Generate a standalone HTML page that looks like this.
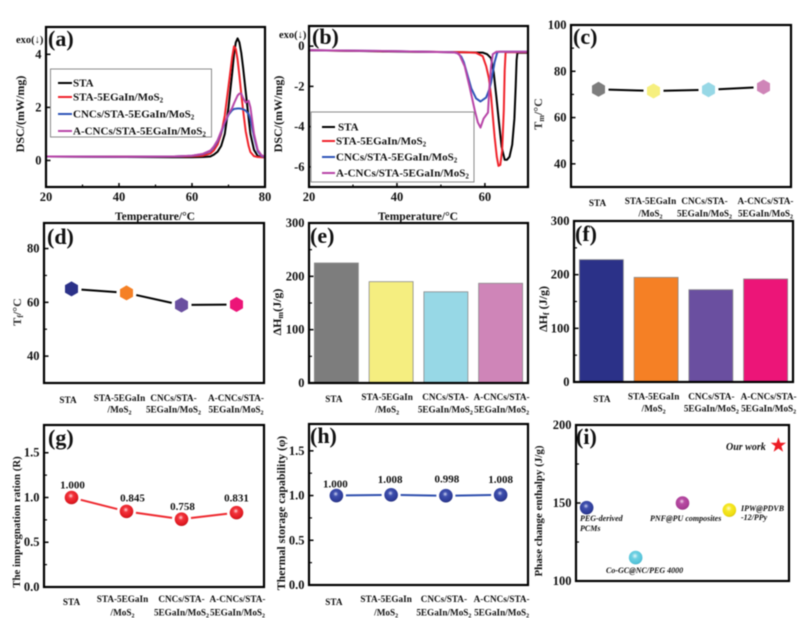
<!DOCTYPE html>
<html lang="en">
<head>
<meta charset="utf-8">
<title>Composite chart panels</title>
<style>
html,body{margin:0;padding:0;background:#fff;width:807px;height:618px;overflow:hidden}
svg{display:block;filter:blur(.6px)}
text{font-family:"Liberation Serif",serif;font-weight:bold;fill:#111}
.letter{font-size:22px}
.title{font-size:12px;text-anchor:middle}
.leg{font-size:11px}
.note{font-size:8px;font-style:italic}
</style>
</head>
<body>
<svg id="fig" xmlns="http://www.w3.org/2000/svg" width="807" height="618" viewBox="0 0 807 618">
<defs>
<radialGradient id="ball-red" cx=".45" cy=".38" r=".62"><stop offset="0" stop-color="#ffd9dc"/><stop offset=".3" stop-color="#f2343c"/><stop offset=".85" stop-color="#e01820"/><stop offset="1" stop-color="#b51218"/></radialGradient>
<radialGradient id="ball-blue" cx=".45" cy=".38" r=".62"><stop offset="0" stop-color="#cdd2f0"/><stop offset=".3" stop-color="#3f50ae"/><stop offset=".85" stop-color="#2c3a96"/><stop offset="1" stop-color="#232d78"/></radialGradient>
<radialGradient id="ball-magenta" cx=".45" cy=".38" r=".62"><stop offset="0" stop-color="#f2d4ec"/><stop offset=".3" stop-color="#b84ca4"/><stop offset=".85" stop-color="#a83c94"/><stop offset="1" stop-color="#8c2f7c"/></radialGradient>
<radialGradient id="ball-cyan" cx=".45" cy=".38" r=".62"><stop offset="0" stop-color="#e4f8fb"/><stop offset=".35" stop-color="#6ed0e2"/><stop offset=".85" stop-color="#55c4da"/><stop offset="1" stop-color="#40aec4"/></radialGradient>
<radialGradient id="ball-yellow" cx=".45" cy=".38" r=".62"><stop offset="0" stop-color="#fffbd0"/><stop offset=".35" stop-color="#f6e826"/><stop offset=".85" stop-color="#eedc10"/><stop offset="1" stop-color="#d2c008"/></radialGradient>
</defs>

<g id="plots"></g>

<g>
<text class="letter" x="48" y="46">(a)</text>
<text class="letter" x="312" y="44">(b)</text>
<text class="letter" x="573" y="44">(c)</text>
<text class="letter" x="47" y="244">(d)</text>
<text class="letter" x="310" y="243">(e)</text>
<text class="letter" x="575" y="241">(f)</text>
<text class="letter" x="48" y="445">(g)</text>
<text class="letter" x="310" y="443">(h)</text>
<text class="letter" x="576" y="444">(i)</text>
</g>

<g>
<text x="16" y="43" style="font-size:10.5px">exo(↓)</text>
<text x="279" y="38" style="font-size:10.5px">exo(↓)</text>
<text class="title" x="155" y="220" style="font-size:11.5px">Temperature/°C</text>
<text class="title" x="418" y="220" style="font-size:11.5px">Temperature/°C</text>
<text class="title" transform="translate(24,114) rotate(-90)">DSC/(mW/mg)</text>
<text class="title" transform="translate(282,114) rotate(-90)">DSC/(mW/mg)</text>
<text class="title" transform="translate(542,114) rotate(-90)" style="fill:#333">T<tspan font-size="8" dy="2">m</tspan><tspan dy="-2">/°C</tspan></text>
<text class="title" transform="translate(21,312) rotate(-90)" style="fill:#333">T<tspan font-size="8" dy="2">f</tspan><tspan dy="-2">/°C</tspan></text>
<text class="title" transform="translate(281,312) rotate(-90)">ΔH<tspan font-size="8" dy="2">m</tspan><tspan dy="-2">(J/g)</tspan></text>
<text class="title" transform="translate(547,309) rotate(-90)">ΔH<tspan font-size="8" dy="2">f</tspan><tspan dy="-2"> (J/g)</tspan></text>
<text class="title" transform="translate(20,522) rotate(-90)" style="font-size:10.8px">The impregnation ration (R)</text>
<text class="title" transform="translate(285,513) rotate(-90)" style="font-size:11.8px">Thermal storage capability (φ)</text>
<text class="title" transform="translate(542,511) rotate(-90)" style="font-size:11px">Phase change enthalpy (J/g)</text>
</g>

<g>
<rect x="50.5" y="69" width="161" height="68" fill="#fff" stroke="#8a8a8a" stroke-width="1"/>
<line x1="58" x2="72" y1="83" y2="83" stroke="#000" stroke-width="2"/>
<text class="leg" x="73" y="86.5">STA</text>
<line x1="58" x2="72" y1="97" y2="97" stroke="#f0232b" stroke-width="2"/>
<text class="leg" x="73" y="100.5">STA-5EGaIn/MoS<tspan font-size="7" dy="2">2</tspan></text>
<line x1="58" x2="72" y1="114" y2="114" stroke="#2f55b8" stroke-width="2"/>
<text class="leg" x="73" y="117.5">CNCs/STA-5EGaIn/MoS<tspan font-size="7" dy="2">2</tspan></text>
<line x1="58" x2="72" y1="131" y2="131" stroke="#b846a8" stroke-width="2"/>
<text class="leg" x="73" y="134.5">A-CNCs/STA-5EGaIn/MoS<tspan font-size="7" dy="2">2</tspan></text>
</g>

<g>
<rect x="311" y="112" width="163" height="70" fill="#fff" stroke="#8a8a8a" stroke-width="1"/>
<line x1="322" x2="335" y1="127" y2="127" stroke="#000" stroke-width="2"/>
<text class="leg" x="338" y="130.5">STA</text>
<line x1="322" x2="335" y1="141" y2="141" stroke="#f0232b" stroke-width="2"/>
<text class="leg" x="336" y="144.5">STA-5EGaIn/MoS<tspan font-size="7" dy="2">2</tspan></text>
<line x1="322" x2="335" y1="157" y2="157" stroke="#2f55b8" stroke-width="2"/>
<text class="leg" x="336" y="160.5">CNCs/STA-5EGaIn/MoS<tspan font-size="7" dy="2">2</tspan></text>
<line x1="322" x2="335" y1="173" y2="173" stroke="#b846a8" stroke-width="2"/>
<text class="leg" x="336" y="176.5">A-CNCs/STA-5EGaIn/MoS<tspan font-size="7" dy="2">2</tspan></text>
</g>

<g>
<text class="note" x="726" y="450" style="font-size:10px">Our work</text>
<text class="note" x="580" y="521">PEG-derived</text>
<text class="note" x="580" y="531">PCMs</text>
<text class="note" x="650" y="521">PNF@PU composites</text>
<text class="note" x="741" y="511">IPW@PDVB</text>
<text class="note" x="741" y="520">-12/PPy</text>
<text class="note" x="606" y="573">Co-GC@NC/PEG 4000</text>
</g>
</svg>

<script>
/* ---------- data ---------- */
const categories = [["STA"], ["STA-5EGaIn", "/MoS2"], ["CNCs/STA-", "5EGaIn/MoS2"], ["A-CNCs/STA-", "5EGaIn/MoS2"]];

const dscHeatTemps  = [20, 40, 55, 60, 63, 65, 66, 67, 68, 69, 70, 71, 71.5, 72, 72.5, 73, 73.5, 74, 74.7, 75.5, 76, 77, 78, 79, 80];
const dscHeatSta    = [0.15, 0.13, 0.12, 0.12, 0.13, 0.15, 0.22, 0.33, 0.55, 1.0, 2.0, 3.3, 4.0, 4.45, 4.6, 4.45, 4.05, 3.5, 2.6, 1.6, 1.0, 0.4, 0.17, 0.13, 0.12];
const dscHeatEgain  = [0.15, 0.15, 0.15, 0.16, 0.18, 0.26, 0.38, 0.6, 1.0, 1.7, 2.8, 3.9, 4.3, 4.2, 3.8, 3.2, 2.5, 1.9, 1.1, 0.55, 0.32, 0.16, 0.13, 0.12, 0.12];
const dscHeatCncs   = [0.15, 0.14, 0.15, 0.18, 0.24, 0.35, 0.5, 0.72, 1.05, 1.42, 1.72, 1.9, 1.94, 1.95, 1.96, 1.96, 1.95, 1.93, 1.88, 1.75, 1.55, 0.9, 0.35, 0.17, 0.13];
const dscHeatACncs  = [0.15, 0.14, 0.15, 0.18, 0.25, 0.37, 0.53, 0.76, 1.1, 1.45, 1.75, 1.98, 2.15, 2.3, 2.45, 2.52, 2.52, 2.35, 2.18, 2.25, 2.0, 1.0, 0.4, 0.2, 0.14];

const dscCoolStaT    = [20, 40, 55, 59.5, 60.5, 61.4, 62, 62.6, 63.2, 63.8, 64.5, 65, 65.6, 66.2, 66.7, 67, 67.2, 67.4, 70];
const dscCoolSta     = [-0.2, -0.27, -0.3, -0.32, -0.4, -0.6, -1.3, -2.5, -3.8, -5, -5.65, -5.65, -5.5, -4.9, -3.6, -2, -0.7, -0.33, -0.33];
const dscCoolEgainT  = [20, 40, 55, 58, 59.5, 60.3, 60.9, 61.4, 62.2, 62.7, 63.1, 63.5, 63.9, 64.3, 64.5, 64.7, 70];
const dscCoolEgain   = [-0.2, -0.26, -0.3, -0.33, -0.5, -1, -1.6, -2.5, -4.5, -5.5, -5.95, -5.9, -5.2, -3.2, -1.2, -0.3, -0.3];
const dscCoolCncsT   = [20, 40, 52.7, 53.8, 54.6, 55.2, 55.8, 56.9, 58, 59, 60.3, 61, 61.4, 62.2, 62.8, 63.2, 70];
const dscCoolCncs    = [-0.2, -0.25, -0.3, -0.35, -0.52, -0.8, -1.25, -2.1, -2.6, -2.75, -2.55, -2.15, -1.8, -0.8, -0.32, -0.28, -0.28];
const dscCoolACncsT  = [20, 40, 52, 53.5, 54.2, 55.4, 56.5, 57.7, 58.4, 59, 59.7, 60.7, 61, 61.4, 61.8, 62.6, 70];
const dscCoolACncs   = [-0.2, -0.25, -0.3, -0.32, -0.42, -1, -2, -3.2, -3.8, -4.05, -3.6, -3.3, -2.1, -1, -0.4, -0.28, -0.28];

const meltTemp     = [72.2, 71.5, 72, 73.2];
const freezeTemp   = [65, 63.5, 59, 59.2];
const meltEnthalpy = [225, 190, 171, 187];
const freezeEnthalpy = [228, 195, 172, 192];
const impregnation = [1.000, 0.845, 0.758, 0.831];
const impregnationText = ["1.000", "0.845", "0.758", "0.831"];
const thermalStorage = [1.000, 1.008, 0.998, 1.008];
const thermalStorageText = ["1.000", "1.008", "0.998", "1.008"];

const scatterNames = ["peg-derived", "pnf-pu", "co-gc", "ipw"];
const scatterRelX  = [5, 50, 28, 72];
const scatterEnthalpy = [147, 150, 115, 145.5];
const ourWorkRelX = 95;
const ourWorkEnthalpy = 187;

const ticksA = [4, 2, 0], minorA = [], xticksA = [20, 40, 60, 80], xminorA = [30, 50, 70];
const ticksB = [0, -2, -4, -6], minorB = [], xticksB = [20, 40, 60], xminorB = [30, 50];
const ticksC = [100, 80, 60, 40], minorC = [90, 70, 50];
const ticksD = [80, 60, 40], minorD = [70, 50];
const ticksBar = [300, 200, 100, 0], minorBar = [250, 150, 50];
const ticksRatio = [1.5, 1.0, 0.5, 0.0], minorRatio = [1.25, 0.75, 0.25];
const ticksI = [200, 150, 100], minorI = [175, 125];

/* ---------- helpers ---------- */
const NS = "http://www.w3.org/2000/svg";
const root = document.getElementById("plots");
function mk(parent, tag, attrs, name) {
  const el = document.createElementNS(NS, tag);
  for (const k in attrs) el.setAttribute(k, attrs[k]);
  
  
  parent.appendChild(el);
  return el;
}
const scale = (d0, d1, r0, r1) => v => r0 + (v - d0) / (d1 - d0) * (r1 - r0);
function frame(id, box, yDom, xDom) {
  const g = mk(root, "g", {}, "panel-" + id);
  return {g, box, y: scale(yDom[0], yDom[1], box.b, box.t), x: xDom ? scale(xDom[0], xDom[1], box.l, box.r) : null,
          band: i => box.l + (i + 0.5) * (box.r - box.l) / 4};
}
function axes(p, id, ticks, minor, fmt, xticks, xminor) {
  const {g, box} = p;
  ticks.forEach(v => {
    const y = p.y(v);
    mk(g, "line", {x1: box.l, x2: box.l + 4.5, y1: y, y2: y, stroke: "#000", "stroke-width": 1.5}, "y-tick-" + id);
    const t = mk(g, "text", {x: box.l - 4.5, y: y + 4, "text-anchor": "end", "font-size": 12.5}, "y-tick-label-" + id);
    t.textContent = fmt(v);
  });
  minor.forEach(v => {
    const y = p.y(v);
    mk(g, "line", {x1: box.l, x2: box.l + 3, y1: y, y2: y, stroke: "#000", "stroke-width": 1.2}, "y-minor-tick-" + id);
  });
  (xticks || []).forEach(v => {
    const x = p.x(v);
    mk(g, "line", {x1: x, x2: x, y1: box.b, y2: box.b - 4, stroke: "#000", "stroke-width": 1.5}, "x-tick-" + id);
    const t = mk(g, "text", {x: x, y: 201, "text-anchor": "middle", "font-size": 12.5}, "x-tick-label-" + id);
    t.textContent = v;
  });
  (xminor || []).forEach(v => {
    const x = p.x(v);
    mk(g, "line", {x1: x, x2: x, y1: box.b, y2: box.b - 2.5, stroke: "#000", "stroke-width": 1.2}, "x-minor-tick-" + id);
  });
}
function border(p, id) {
  const {g, box} = p;
  mk(g, "rect", {x: box.l, y: box.t, width: box.r - box.l, height: box.b - box.t, fill: "none", stroke: "#000", "stroke-width": 2.2}, "plot-frame-" + id);
}
function curve(p, xs, ys, color, name) {
  const pts = xs.map((x, i) => p.x(x).toFixed(1) + "," + p.y(ys[i]).toFixed(1)).join(" ");
  mk(p.g, "polyline", {points: pts, fill: "none", stroke: color, "stroke-width": 2, "stroke-linejoin": "round"}, name);
}
function catLabels(p, id, offsets, y1, y2, yS) {
  categories.forEach((lines, i) => {
    lines.forEach((line, j) => {
      const y = lines.length === 1 ? yS : (j === 0 ? y1 : y2);
      const t = mk(p.g, "text", {x: p.band(i) + offsets[i], y: y, "text-anchor": "middle", "font-size": 9.2}, "category-label-" + id);
      if (line.endsWith("MoS2")) {
        t.textContent = line.slice(0, -1);
        const s = mk(t, "tspan", {"font-size": 6, dy: 2}, "subscript-2");
        s.textContent = "2";
      } else {
        t.textContent = line;
      }
    });
  });
}
function linksBetween(p, vals, color, gap, name) {
  for (let i = 0; i + 1 < vals.length; i++) {
    const x1 = p.band(i), y1 = p.y(vals[i]), x2 = p.band(i + 1), y2 = p.y(vals[i + 1]);
    const len = Math.hypot(x2 - x1, y2 - y1), ux = (x2 - x1) / len, uy = (y2 - y1) / len;
    mk(p.g, "line", {x1: x1 + ux * gap, y1: y1 + uy * gap, x2: x2 - ux * gap, y2: y2 - uy * gap, stroke: color, "stroke-width": 2}, name);
  }
}
function hexagon(cx, cy, r) {
  const pts = [];
  for (let k = 0; k < 6; k++) {
    const a = Math.PI / 3 * k - Math.PI / 2;
    pts.push((cx + r * Math.cos(a)).toFixed(1) + "," + (cy + r * Math.sin(a)).toFixed(1));
  }
  return pts.join(" ");
}
function hexPanel(p, id, vals, colors) {
  linksBetween(p, vals, "#000", 10, "connector-line-" + id);
  vals.forEach((v, i) => {
    mk(p.g, "polygon", {points: hexagon(p.band(i), p.y(v), 7.5), fill: colors[i]}, "hexagon-marker-" + id);
  });
}
function barPanel(p, id, vals, colors) {
  vals.forEach((v, i) => {
    const y = p.y(v);
    mk(p.g, "rect", {x: p.band(i) - 22, y: y, width: 44, height: p.box.b - y, fill: colors[i], stroke: "#8b8b8b", "stroke-width": 0.8}, "bar-" + id);
  });
}
function ballPanel(p, id, vals, texts, fill, lineColor, dxs, dys) {
  linksBetween(p, vals, lineColor, 9.5, "connector-line-" + id);
  vals.forEach((v, i) => {
    mk(p.g, "circle", {cx: p.band(i), cy: p.y(v), r: 6.8, fill: fill}, "sphere-marker-" + id);
    const t = mk(p.g, "text", {x: p.band(i) + dxs[i], y: p.y(v) + dys[i], "text-anchor": "middle", "font-size": 11}, "value-label-" + id);
    t.textContent = texts[i];
  });
}

/* ---------- panels ---------- */
const f0 = v => String(v);
const f1 = v => v.toFixed(1);

const pa = frame("a", {l: 46, r: 265, t: 27, b: 187}, [-1, 5.03], [20, 80]);
axes(pa, "a", ticksA, minorA, f0, xticksA, xminorA);
curve(pa, dscHeatTemps, dscHeatSta, "#000", "curve-sta-heating");
curve(pa, dscHeatTemps, dscHeatEgain, "#f0232b", "curve-sta-egain-heating");
curve(pa, dscHeatTemps, dscHeatCncs, "#2f55b8", "curve-cncs-heating");
curve(pa, dscHeatTemps, dscHeatACncs, "#b846a8", "curve-a-cncs-heating");
border(pa, "a");

const pb = frame("b", {l: 309, r: 528, t: 26, b: 187}, [-7, 1], [20, 69.8]);
axes(pb, "b", ticksB, minorB, f0, xticksB, xminorB);
curve(pb, dscCoolStaT, dscCoolSta, "#000", "curve-sta-cooling");
curve(pb, dscCoolEgainT, dscCoolEgain, "#f0232b", "curve-sta-egain-cooling");
curve(pb, dscCoolCncsT, dscCoolCncs, "#2f55b8", "curve-cncs-cooling");
curve(pb, dscCoolACncsT, dscCoolACncs, "#b846a8", "curve-a-cncs-cooling");
border(pb, "b");

const pc = frame("c", {l: 571, r: 791, t: 25, b: 187}, [30, 100]);
axes(pc, "c", ticksC, minorC, f0);
hexPanel(pc, "c", meltTemp, ["#7d7d7d", "#f6ef7e", "#97d8e6", "#cf85b8"]);
catLabels(pc, "c", [-1, -3, -4, 2], 204, 216.5, 206);
border(pc, "c");

const pd = frame("d", {l: 44, r: 264, t: 223, b: 383}, [30, 89.5]);
axes(pd, "d", ticksD, minorD, f0);
hexPanel(pd, "d", freezeTemp, ["#2b3188", "#f58025", "#6a4fa0", "#ec1578"]);
catLabels(pd, "d", [-3.5, -7, -8, -0.5], 401, 412.5, 403);
border(pd, "d");

const pe = frame("e", {l: 309, r: 528, t: 223, b: 383}, [0, 300]);
axes(pe, "e", ticksBar, minorBar, f0);
barPanel(pe, "e", meltEnthalpy, ["#7d7d7d", "#f5ee80", "#97d8e6", "#cf85b8"]);
catLabels(pe, "e", [-2.5, -4, -0.5, 1], 400, 412.5, 402);
border(pe, "e");

const pf = frame("f", {l: 574, r: 793, t: 221, b: 382}, [0, 300]);
axes(pf, "f", ticksBar, minorBar, f0);
barPanel(pf, "f", freezeEnthalpy, ["#2b3188", "#f58025", "#6a4fa0", "#ec1578"]);
catLabels(pf, "f", [0.5, -2.5, 0.5, 3], 399.5, 411.5, 402);
border(pf, "f");

const pg = frame("g", {l: 44, r: 264, t: 425, b: 587}, [0, 1.81]);
axes(pg, "g", ticksRatio, minorRatio, f1);
ballPanel(pg, "g", impregnation, impregnationText, "url(#ball-red)", "#ee2a30", [1, 6, 1, 0], [-9, -10, -9, -11]);
catLabels(pg, "g", [0, -4, 0, 1], 602, 615.5, 605);
border(pg, "g");

const ph = frame("h", {l: 309, r: 528, t: 424, b: 585}, [0, 1.8]);
axes(ph, "h", ticksRatio, minorRatio, f1);
ballPanel(ph, "h", thermalStorage, thermalStorageText, "url(#ball-blue)", "#2f4fae", [-1, -1, 1, 0], [-8, -12, -13, -12]);
catLabels(ph, "h", [-2.5, -5, -2, 1], 602, 615.5, 605);
border(ph, "h");

const pi = frame("i", {l: 576, r: 789, t: 425, b: 581}, [100, 200], [0, 100]);
axes(pi, "i", ticksI, minorI, f0);
const scatterFills = ["url(#ball-blue)", "url(#ball-magenta)", "url(#ball-cyan)", "url(#ball-yellow)"];
scatterRelX.forEach((x, i) => {
  mk(pi.g, "circle", {cx: pi.x(x), cy: pi.y(scatterEnthalpy[i]), r: 6.8, fill: scatterFills[i]}, "scatter-point-" + scatterNames[i]);
});
{
  const cx = pi.x(ourWorkRelX), cy = pi.y(ourWorkEnthalpy), pts = [];
  for (let k = 0; k < 10; k++) {
    const a = Math.PI / 5 * k - Math.PI / 2, r = k % 2 ? 3.2 : 8;
    pts.push((cx + r * Math.cos(a)).toFixed(1) + "," + (cy + r * Math.sin(a)).toFixed(1));
  }
  mk(pi.g, "polygon", {points: pts.join(" "), fill: "#ed1c24"}, "our-work-star");
}
border(pi, "i");
</script>
</body>
</html>
